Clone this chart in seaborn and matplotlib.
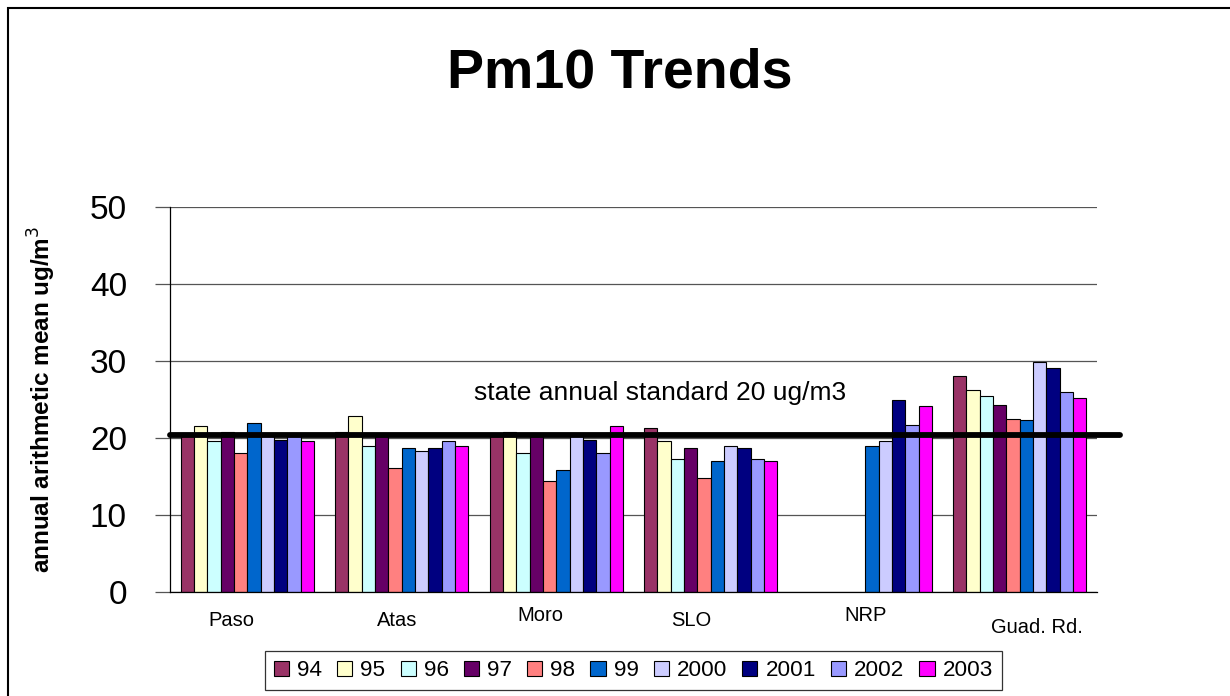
import pandas as pd
import numpy as np
import matplotlib.pyplot as plt
import matplotlib.transforms as mtransforms
from matplotlib.patches import Rectangle
import seaborn as sns

# data
sites = ["Paso", "Atas", "Moro", "SLO", "NRP", "Guad. Rd."]
years = ["94", "95", "96", "97", "98", "99", "2000", "2001", "2002", "2003"]
paso = [20.6, 21.6, 19.6, 20.8, 18.1, 21.9, 20.2, 19.8, 20.2, 19.6]
atas = [20.8, 22.8, 18.9, 20.3, 16.1, 18.7, 18.3, 18.7, 19.6, 19.0]
moro = [20.3, 20.8, 18.1, 20.3, 14.4, 15.8, 20.3, 19.8, 18.1, 21.6]
slo = [21.3, 19.6, 17.3, 18.7, 14.8, 17.0, 19.0, 18.7, 17.3, 17.0]
nrp = [np.nan, np.nan, np.nan, np.nan, np.nan, 19.0, 19.6, 25.0, 21.7, 24.1]
guad = [28.0, 26.2, 25.5, 24.3, 22.5, 22.3, 29.9, 29.1, 26.0, 25.2]
standard = 20.4

colors = ["#993366", "#FFFFCC", "#CCFFFF", "#660066", "#FF8080",
          "#0066CC", "#CCCCFF", "#000080", "#9999FF", "#FF00FF"]

rows = []
for site, vals in zip(sites, [paso, atas, moro, slo, nrp, guad]):
    for yr, v in zip(years, vals):
        rows.append({"site": site, "year": yr, "value": v})
df = pd.DataFrame(rows)

sns.set_theme(style="white")
plt.rcParams['font.family'] = ['Liberation Sans', 'DejaVu Sans']
plt.rcParams['text.color'] = 'black'
plt.rcParams['axes.labelcolor'] = 'black'
plt.rcParams['xtick.color'] = 'black'
plt.rcParams['ytick.color'] = 'black'

fig = plt.figure(figsize=(12.3, 6.96), dpi=100)
ax = fig.add_axes([170 / 1230, 1 - 592 / 696, 927 / 1230, 385 / 696])

sns.barplot(data=df, x="site", y="value", hue="year", order=sites, hue_order=years,
            palette=colors, saturation=1, width=0.863, edgecolor="black",
            linewidth=0.8, errorbar=None, ax=ax)

ax.set_ylim(0, 50)
ax.set_xlim(-0.5, 5.5)
ax.set_yticks(range(0, 51, 10))
ax.yaxis.grid(True, color="#555555", linewidth=0.9)
ax.set_axisbelow(True)
for s in ["top", "right"]:
    ax.spines[s].set_visible(False)
ax.spines["left"].set_color("black")
ax.spines["bottom"].set_color("black")
ax.spines["left"].set_linewidth(0.9)
ax.spines["bottom"].set_linewidth(0.9)

ax.tick_params(axis="y", direction="out", length=11, width=0.9, color="#555555",
               pad=20, labelsize=24, left=True)
ax.tick_params(axis="x", length=0, pad=10, labelsize=14.5)
ax.set_xlabel("")
ax.set_ylabel("annual arithmetic mean ug/m$^3$", fontsize=17.5, fontweight="bold")
ax.yaxis.set_label_coords(-0.121, 0.5)

# staggered category labels as in the original
label_dx = [-16, -5, -16, -19, 0, 17]
label_dy = [-5, -5, 0, -5, 0, -12]
for lab, dx, dy in zip(ax.get_xticklabels(), label_dx, label_dy):
    lab.set_transform(lab.get_transform() +
                      mtransforms.ScaledTranslation(dx / 100, dy / 100, fig.dpi_scale_trans))

# state standard line
ax.axhline(standard, xmin=0, xmax=1.025, color="black", linewidth=4.2, clip_on=False, zorder=5)
ax.text(0.529, 25.8, "state annual standard 20 ug/m3", transform=ax.get_yaxis_transform(),
        ha="center", va="center", fontsize=19)

fig.text(0.504, 1 - 74 / 696, "Pm10 Trends", ha="center", va="center",
         fontsize=40, fontweight="bold")

sns.move_legend(ax, loc="center", bbox_to_anchor=(0.500, -0.205), ncol=10, title=None,
                fontsize=16.2, frameon=True, fancybox=False, edgecolor="black",
                handlelength=0.67, handleheight=0.67, handletextpad=0.36,
                columnspacing=0.67, borderpad=0.4)
ax.get_legend().get_frame().set_linewidth(0.9)

# outer chart frame
fig.add_artist(Rectangle((8 / 1230, -0.1), 1.2, 1 - 8 / 696 + 0.1, transform=fig.transFigure,
                         fill=False, edgecolor="black", linewidth=1.5))

fig.savefig("out.png", dpi=100)
